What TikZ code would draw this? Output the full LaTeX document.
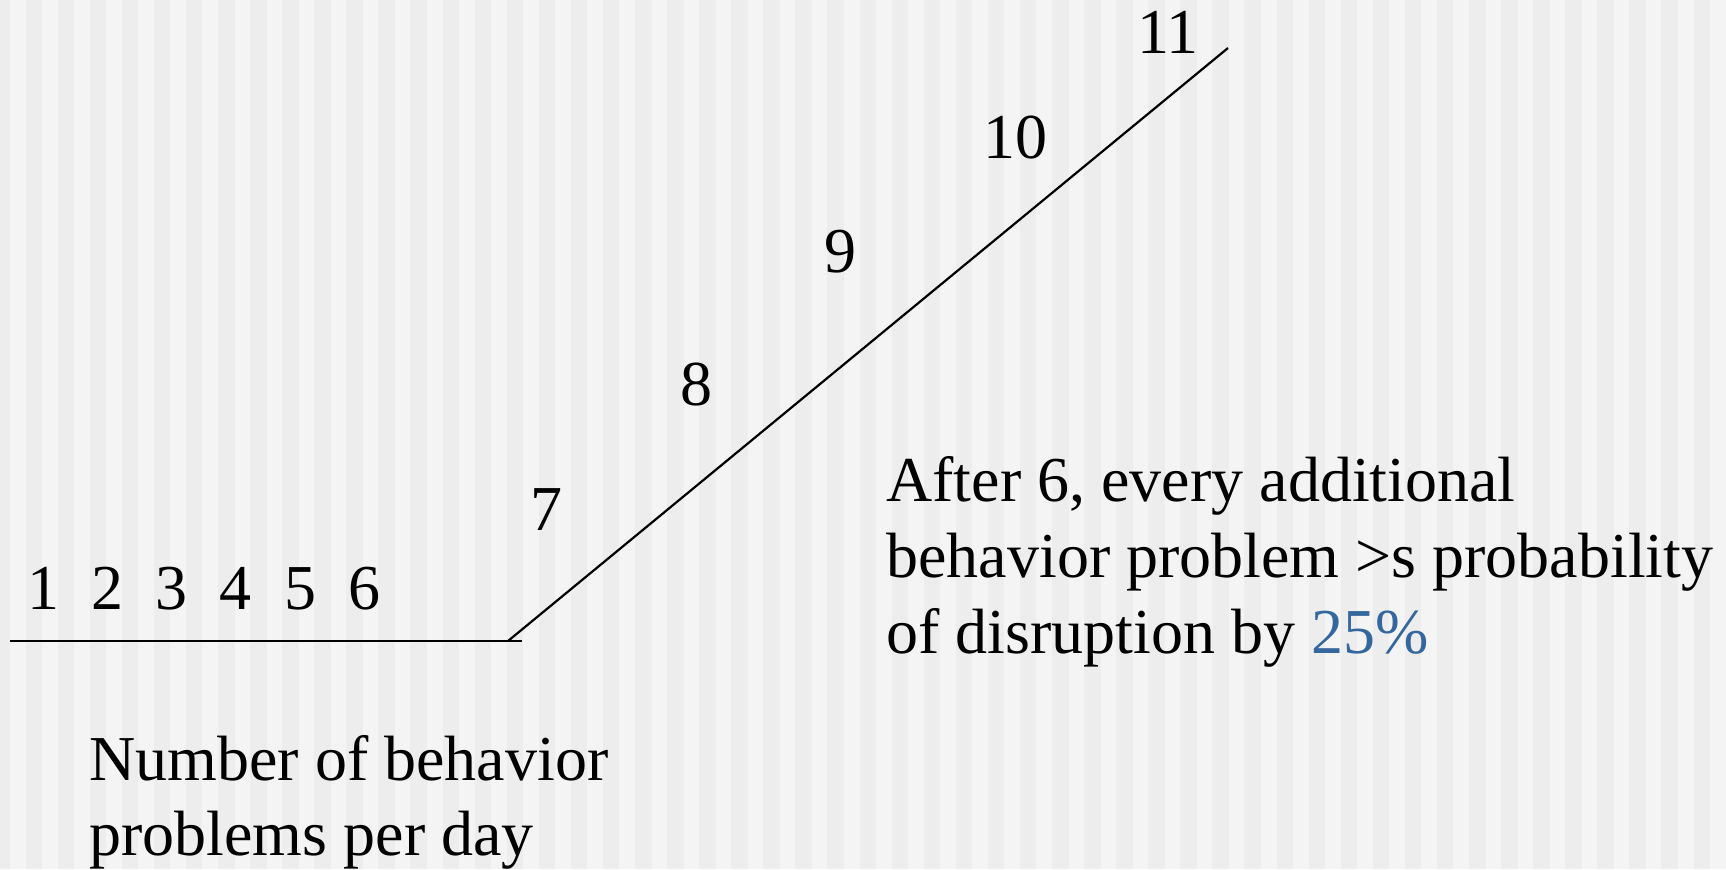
\documentclass[tikz,border=0pt]{standalone}
\usepackage{fontspec}
\setmainfont{Liberation Serif}
\definecolor{bgdark}{RGB}{237,237,237}
\definecolor{bglight}{RGB}{244,244,244}
\definecolor{pctblue}{RGB}{52,103,158}
\begin{document}
\begin{tikzpicture}[x=0.5pt,y=-0.5pt,
  lbl/.style={inner sep=0pt,font=\fontsize{32pt}{38pt}\selectfont,anchor=base},
  txt/.style={inner sep=0pt,font=\fontsize{32pt}{38pt}\selectfont,anchor=base west},
  curve/.style={line width=1.1pt,black}]
\fill[bgdark] (0,0) rectangle (1726,869);
\foreach \i in {0,...,53}{
  \fill[bglight] ({10+32.077*\i},0) rectangle ({25.5+32.077*\i},869);
}
\useasboundingbox (0,0) rectangle (1726,869);
% line
\coordinate (h0) at (10,641);
\coordinate (h1) at (522,641);
\coordinate (d0) at (508,641);
\coordinate (d1) at (1228,48);
\draw[curve] (h0) -- (h1);
\draw[curve] (d0) -- (d1);
% numbers
\node[lbl] (n1) at (43,609) {1};
\node[lbl] (n2) at (107.5,609) {2};
\node[lbl] (n3) at (171,609) {3};
\node[lbl] (n4) at (235,609) {4};
\node[lbl] (n5) at (300,609) {5};
\node[lbl] (n6) at (364,609) {6};
\node[lbl] (n7) at (546,530.5) {7};
\node[lbl] (n8) at (696,405) {8};
\node[lbl] (n9) at (840,272.5) {9};
\node[lbl] (n10) at (1015,158.3) {10};
\node[lbl] (n11) at (1168,53.3) {11};
% texts
\node[txt] (a1) at (886,501.7) {After 6, every additional};
\node[txt] (a2) at (886,577.2) {behavior problem >s probability};
\node[txt] (a3) at (886,653) {of disruption by \textcolor{pctblue}{25\%}};
\node[txt] (b1) at (89,780) {Number of behavior};
\node[txt] (b2) at (89,855) {problems per day};
\end{tikzpicture}
\end{document}
